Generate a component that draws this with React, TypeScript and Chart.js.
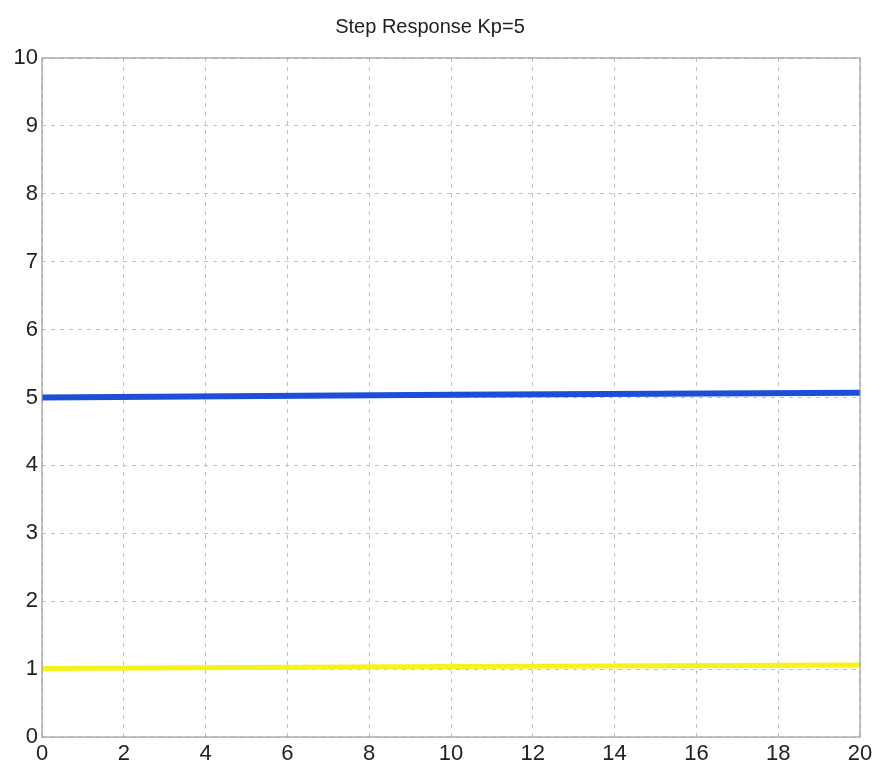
import React, { useEffect, useRef } from "react";
import { Chart, registerables } from "chart.js";

Chart.register(...registerables);

const title = "Step Response Kp=5";
const timeValues = [0, 10, 20];
const outputValues = [5.0, 5.04, 5.07];
const inputValues = [1.01, 1.04, 1.06];
const xTicks = [0, 2, 4, 6, 8, 10, 12, 14, 16, 18, 20];
const yTicks = [0, 1, 2, 3, 4, 5, 6, 7, 8, 9, 10];

const boxPlugin = {
  id: "boxPlugin",
  afterDraw(chart: any) {
    const { ctx, chartArea } = chart;
    ctx.save();
    ctx.strokeStyle = "#9a9a9a";
    ctx.lineWidth = 1.2;
    ctx.setLineDash([]);
    ctx.strokeRect(chartArea.left, chartArea.top, chartArea.right - chartArea.left, chartArea.bottom - chartArea.top);
    ctx.restore();
  },
};

export default function App() {
  const ref = useRef<HTMLCanvasElement | null>(null);
  useEffect(() => {
    const canvas = ref.current;
    if (!canvas) return;
    const font = { family: "'Liberation Sans', Arial, sans-serif", size: 22 };
    const chart = new Chart(canvas, {
      type: "line",
      data: {
        datasets: [
          {
            label: "output",
            data: timeValues.map((t, i) => ({ x: t, y: outputValues[i] })),
            borderColor: "#1c4ed6",
            borderWidth: 6,
            pointRadius: 0,
            fill: false,
          },
          {
            label: "input",
            data: timeValues.map((t, i) => ({ x: t, y: inputValues[i] })),
            borderColor: "#f7f21a",
            borderWidth: 5,
            pointRadius: 0,
            fill: false,
          },
        ],
      },
      options: {
        responsive: false,
        animation: false,
        layout: { padding: { left: 0, right: 21, top: 0, bottom: 0 } },
        plugins: {
          legend: { display: false },
          tooltip: { enabled: false },
          title: {
            display: true,
            text: title,
            color: "#222",
            font: { family: "'Liberation Sans', Arial, sans-serif", size: 20, weight: "normal" },
            padding: { top: 15, bottom: 19 },
          },
        },
        scales: {
          x: {
            type: "linear",
            min: 0,
            max: 20,
            afterBuildTicks: (axis: any) => {
              axis.ticks = xTicks.map((v) => ({ value: v }));
            },
            afterFit: (axis: any) => {
              axis.height = 30;
            },
            ticks: { color: "#222", font, padding: 4, maxRotation: 0, autoSkip: false },
            grid: { color: "#c2c2c2", lineWidth: 1, drawTicks: false },
            border: { display: false, dash: [4, 5] },
          },
          y: {
            type: "linear",
            min: 0,
            max: 10,
            afterBuildTicks: (axis: any) => {
              axis.ticks = yTicks.map((v) => ({ value: v }));
            },
            afterFit: (axis: any) => {
              axis.width = 42;
            },
            ticks: { color: "#222", font, padding: 4, autoSkip: false },
            grid: { color: "#c2c2c2", lineWidth: 1, drawTicks: false },
            border: { display: false, dash: [4, 5] },
          },
        },
      },
      plugins: [boxPlugin],
    });
    return () => chart.destroy();
  }, []);
  return (
    <div style={{ position: "fixed", left: 0, top: 0, width: 881, height: 767, background: "#fff" }}>
      <canvas ref={ref} width={881} height={767} style={{ display: "block" }} />
    </div>
  );
}
